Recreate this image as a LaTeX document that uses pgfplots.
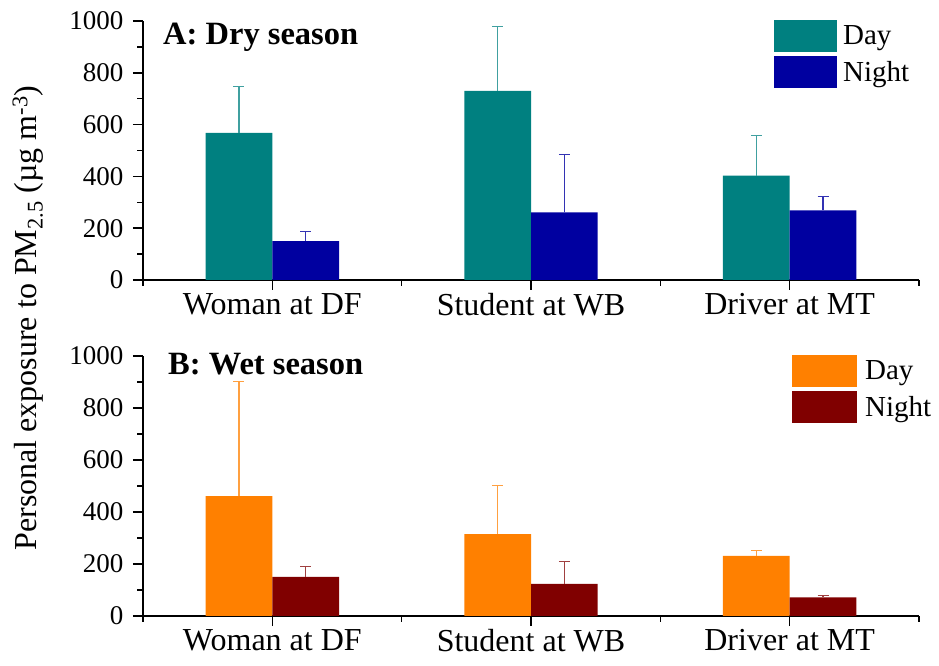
\documentclass[border=0pt]{standalone}
\usepackage{fontspec}
\setmainfont{Liberation Serif}
\usepackage{pgfplots}
\pgfplotsset{compat=1.18}
\newcommand\bigf{\fontsize{29}{34}\selectfont}
\definecolor{dayA}{RGB}{0,128,128}
\definecolor{nightA}{RGB}{0,0,160}
\definecolor{dayB}{RGB}{255,128,0}
\definecolor{nightB}{RGB}{128,0,0}
\pgfplotsset{
  panel/.style={
    scale only axis, width=776pt, height=259pt,
    anchor=south west,
    xmin=0.5, xmax=3.5, ymin=0, ymax=1000,
    axis x line=bottom, axis y line=left,
    axis line style={-, line width=2pt},
    tick align=outside,
    xtick={1,2,3}, minor xtick={0.5,1.5,2.5,3.5},
    xticklabels={Woman at DF, Student at WB, Driver at MT},
    ytick={0,200,400,600,800,1000},
    minor ytick={100,300,500,700,900},
    major tick length=10pt, minor tick length=6pt,
    every tick/.style={black, line width=1.5pt},
    yticklabel style={font=\fontsize{27}{32}\selectfont, xshift=-6pt},
    xticklabel style={font=\fontsize{32}{37}\selectfont},
    /pgf/number format/assume math mode=true,
    /pgf/number format/1000 sep={},
    ybar, bar width=0.258,
    legend cell align=left,
    clip=false,
  },
  dayplot/.style={fill=#1, draw=none, bar shift=-0.129},
  nightplot/.style={fill=#1, draw=none, bar shift=0.129},
}
\begin{document}
\begin{tikzpicture}[x=1pt,y=1pt]
\path[use as bounding box] (0,0) rectangle (939,666);
% Top panel
\begin{axis}[panel, at={(143pt,386pt)},
  legend style={draw=none, fill=none, at={(0.8131,1.004)}, anchor=north west,
    inner sep=0pt, row sep=4pt, column sep=6pt, font=\bigf,
    nodes={inner sep=0pt}},
  legend image code/.code={\fill[#1] (0pt,-16pt) rectangle (63pt,16pt);},
]
\addplot[dayplot=dayA, error bars/.cd, y dir=plus, y explicit, error mark=|,
  error bar style={color=dayA!75, line width=1.2pt},
  error mark options={color=dayA!75, line width=1.2pt, mark size=5.5pt}]
  coordinates {(1,568) +- (0,178) (2,730) +- (0,248) (3,403) +- (0,154)};
\addlegendentry{Day}
\addplot[nightplot=nightA, error bars/.cd, y dir=plus, y explicit, error mark=|,
  error bar style={color=nightA!80, line width=1.2pt},
  error mark options={color=nightA!80, line width=1.2pt, mark size=5.5pt}]
  coordinates {(1,150) +- (0,38) (2,261) +- (0,224) (3,269) +- (0,54)};
\addlegendentry{Night}
\end{axis}
% Bottom panel
\begin{axis}[panel, at={(143pt,50pt)}, height=260pt,
  legend style={draw=none, fill=none, at={(0.8363,1.004)}, anchor=north west,
    inner sep=0pt, row sep=4pt, column sep=8pt, font=\bigf,
    nodes={inner sep=0pt}},
  legend image code/.code={\fill[#1] (0pt,-16pt) rectangle (65pt,16pt);},
]
\addplot[dayplot=dayB, error bars/.cd, y dir=plus, y explicit, error mark=|,
  error bar style={color=dayB!75, line width=1.2pt},
  error mark options={color=dayB!75, line width=1.2pt, mark size=5.5pt}]
  coordinates {(1,461) +- (0,440) (2,315) +- (0,186) (3,231) +- (0,22)};
\addlegendentry{Day}
\addplot[nightplot=nightB, error bars/.cd, y dir=plus, y explicit, error mark=|,
  error bar style={color=nightB!75, line width=1.2pt},
  error mark options={color=nightB!75, line width=1.2pt, mark size=5.5pt}]
  coordinates {(1,150) +- (0,40) (2,124) +- (0,86) (3,72) +- (0,6)};
\addlegendentry{Night}
\end{axis}
\node[anchor=base west, inner sep=0pt, font=\fontsize{32.5}{37}\selectfont\bfseries] at (163,621) {A: Dry season};
\node[anchor=base west, inner sep=0pt, font=\fontsize{32.5}{37}\selectfont\bfseries] at (168,291) {B: Wet season};
\node[rotate=90, inner sep=0pt, font=\fontsize{32}{37}\selectfont] at (28,348) {Personal exposure to PM\textsubscript{2.5} (µg m\textsuperscript{-3})};
\end{tikzpicture}
\end{document}
